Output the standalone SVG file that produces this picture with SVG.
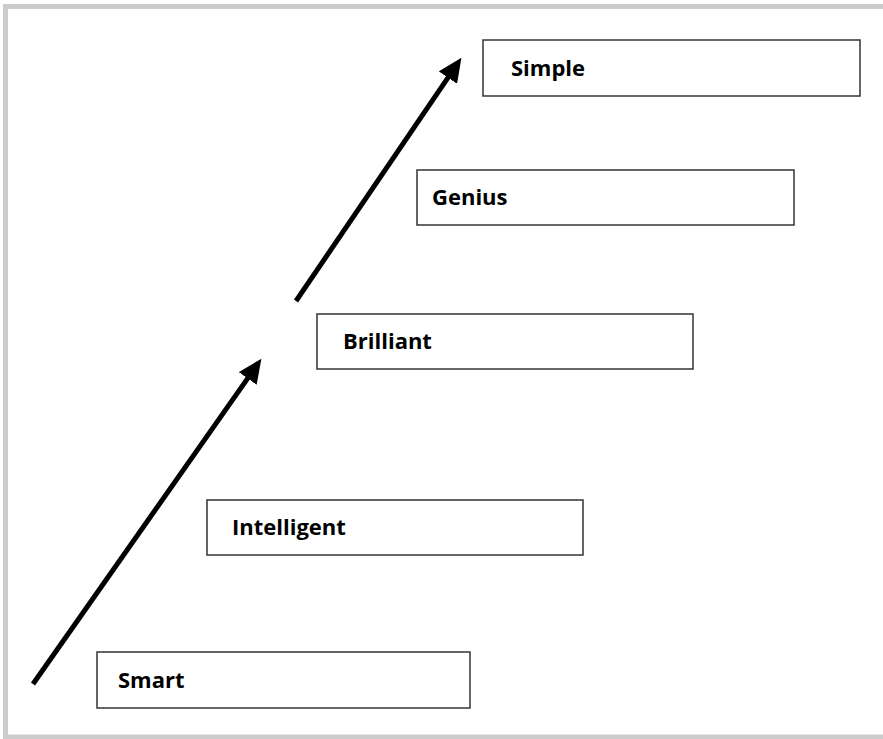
<svg xmlns="http://www.w3.org/2000/svg" width="883" height="739" viewBox="0 0 883 739">
<style>
.frame{fill:none;stroke:#cccccc;stroke-width:5}
.box{fill:#ffffff;stroke:#333333;stroke-width:1.5}
.lbl{font-family:"Open Sans","Liberation Sans",sans-serif;font-weight:bold;font-size:22px;fill:#000000}
.arr{stroke:#000000;stroke-width:5;fill:none;marker-end:url(#head)}
</style>
<defs>
<marker id="head" viewBox="0 -11 24 22" markerUnits="userSpaceOnUse" markerWidth="24" markerHeight="22" refX="1" refY="0" orient="auto">
<path d="M0,-11 L24,0 L0,11 z" fill="#000000"/>
</marker>
</defs>
<rect x="0" y="0" width="883" height="739" fill="#ffffff"/>
<path class="frame" d="M883,6.5 H5.5 V737 H883"/>
<g id="connectors">
<line class="arr" x1="33" y1="684" x2="248.2" y2="377.6"/>
<line class="arr" x1="296" y1="301" x2="448.5" y2="76.8"/>
</g>
<g id="node-smart">
<rect class="box" x="97" y="652" width="373" height="56"/>
<text class="lbl" x="118" y="688">Smart</text>
</g>
<g id="node-intelligent">
<rect class="box" x="207" y="500" width="376" height="55"/>
<text class="lbl" x="232" y="535">Intelligent</text>
</g>
<g id="node-brilliant">
<rect class="box" x="317" y="314" width="376" height="55"/>
<text class="lbl" x="343" y="349">Brilliant</text>
</g>
<g id="node-genius">
<rect class="box" x="417" y="170" width="377" height="55"/>
<text class="lbl" x="432" y="205">Genius</text>
</g>
<g id="node-simple">
<rect class="box" x="483" y="40" width="377" height="56"/>
<text class="lbl" x="511" y="76">Simple</text>
</g>
</svg>
